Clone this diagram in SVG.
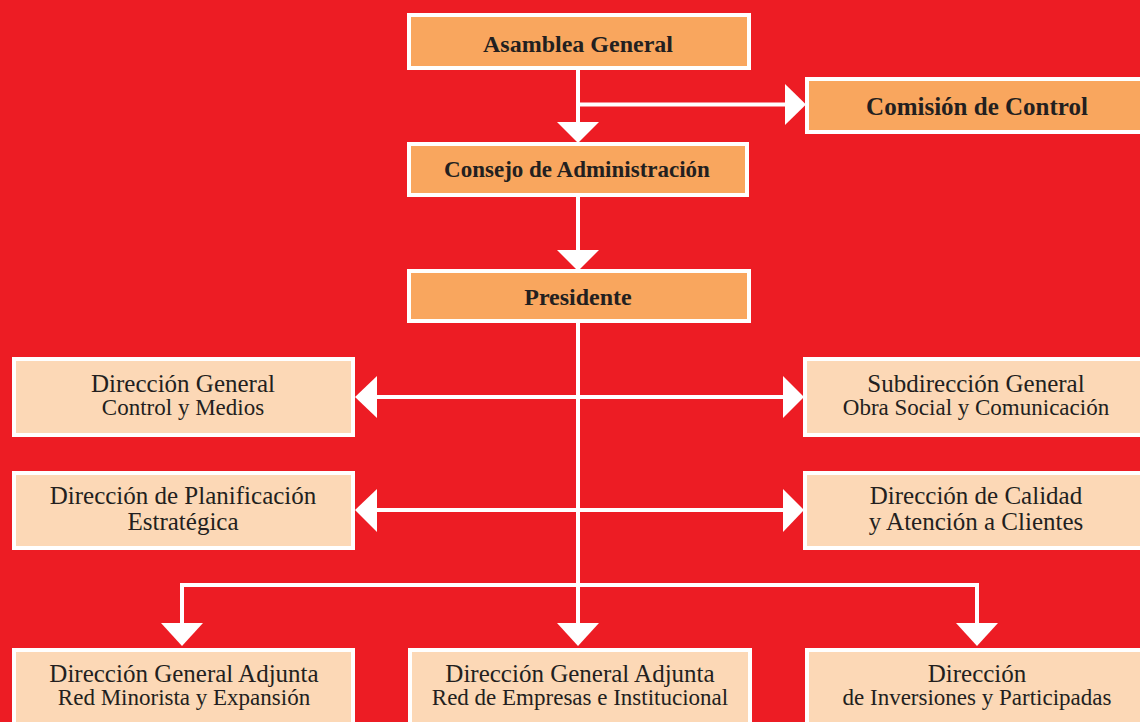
<svg xmlns="http://www.w3.org/2000/svg" width="1140" height="722" viewBox="0 0 1140 722">
  <style>
    .top { fill: #F9A65E; stroke: #FFFFFF; stroke-width: 4; }
    .unit { fill: #FCD8B6; stroke: #FFFFFF; stroke-width: 4; }
    .link { stroke: #FFFFFF; stroke-width: 4; fill: none; }
    .head { fill: #FFFFFF; }
    text { fill: #231F20; text-anchor: middle; }
    .b { font-weight: bold; font-size: 24px; }
    .l1 { font-size: 25px; }
    .l2 { font-size: 23px; }
  </style>

  <!-- background -->
  <rect x="0" y="0" width="1140" height="722" fill="#ED1C24"/>

  <!-- connectors -->
  <g id="connectors">
    <!-- spine from the assembly down to the lower tier -->
    <path class="link" d="M578 70 V124"/>
    <path class="link" d="M578 104.5 H786"/>
    <path class="link" d="M578 197 V252"/>
    <path class="link" d="M578 323 V625"/>
    <!-- side branches from the president -->
    <path class="link" d="M376 397 H784"/>
    <path class="link" d="M376 510 H784"/>
    <!-- lower tier fan-out -->
    <path class="link" d="M182 625 V585 H977 V625"/>

    <polygon class="head" points="557,122 599,122 578,143"/>
    <polygon class="head" points="785,84 785,125 806,104.5"/>
    <polygon class="head" points="557,250 599,250 578,271"/>
    <polygon class="head" points="377,376 377,418 355,397"/>
    <polygon class="head" points="783,376 783,418 804,397"/>
    <polygon class="head" points="377,489 377,532 355,510"/>
    <polygon class="head" points="783,489 783,532 804,510"/>
    <polygon class="head" points="161,623 203,623 182,646"/>
    <polygon class="head" points="557,623 599,623 578,646"/>
    <polygon class="head" points="956,623 998,623 977,646"/>
  </g>

  <g font-family="'Liberation Serif', 'DejaVu Serif', 'Times New Roman', serif">
  <g id="asamblea">
    <rect class="top" x="409" y="15" width="340" height="53"/>
    <text class="b" x="578" y="52">Asamblea General</text>
  </g>

  <g id="comision">
    <rect class="top" x="807" y="79" width="340" height="53"/>
    <text class="b" x="977" y="115" style="font-size:25px">Comisión de Control</text>
  </g>

  <g id="consejo">
    <rect class="top" x="409" y="144" width="338" height="51"/>
    <text class="b" x="577" y="177" style="font-size:23px">Consejo de Administración</text>
  </g>

  <g id="presidente">
    <rect class="top" x="409" y="271" width="340" height="50"/>
    <text class="b" x="578" y="305">Presidente</text>
  </g>

  <g id="control-medios">
    <rect class="unit" x="14" y="359" width="339" height="76"/>
    <text class="l1" x="183" y="392">Dirección General</text>
    <text class="l2" x="183" y="415">Control y Medios</text>
  </g>

  <g id="obra-social">
    <rect class="unit" x="805" y="359" width="340" height="76"/>
    <text class="l1" x="976" y="392">Subdirección General</text>
    <text class="l2" x="976" y="415">Obra Social y Comunicación</text>
  </g>

  <g id="planificacion">
    <rect class="unit" x="14" y="473" width="339" height="75"/>
    <text class="l1" x="183" y="504">Dirección de Planificación</text>
    <text class="l1" x="183" y="530">Estratégica</text>
  </g>

  <g id="calidad">
    <rect class="unit" x="805" y="473" width="340" height="75"/>
    <text class="l1" x="976" y="504">Dirección de Calidad</text>
    <text class="l1" x="976" y="530">y Atención a Clientes</text>
  </g>

  <g id="red-minorista">
    <rect class="unit" x="14" y="650" width="339" height="80"/>
    <text class="l1" x="184" y="682">Dirección General Adjunta</text>
    <text class="l2" x="184" y="705">Red Minorista y Expansión</text>
  </g>

  <g id="red-empresas">
    <rect class="unit" x="410" y="650" width="340" height="80"/>
    <text class="l1" x="580" y="682">Dirección General Adjunta</text>
    <text class="l2" x="580" y="705">Red de Empresas e Institucional</text>
  </g>

  <g id="inversiones">
    <rect class="unit" x="807" y="650" width="340" height="80"/>
    <text class="l1" x="977" y="682">Dirección</text>
    <text class="l2" x="977" y="705">de Inversiones y Participadas</text>
  </g>
  </g>
</svg>
